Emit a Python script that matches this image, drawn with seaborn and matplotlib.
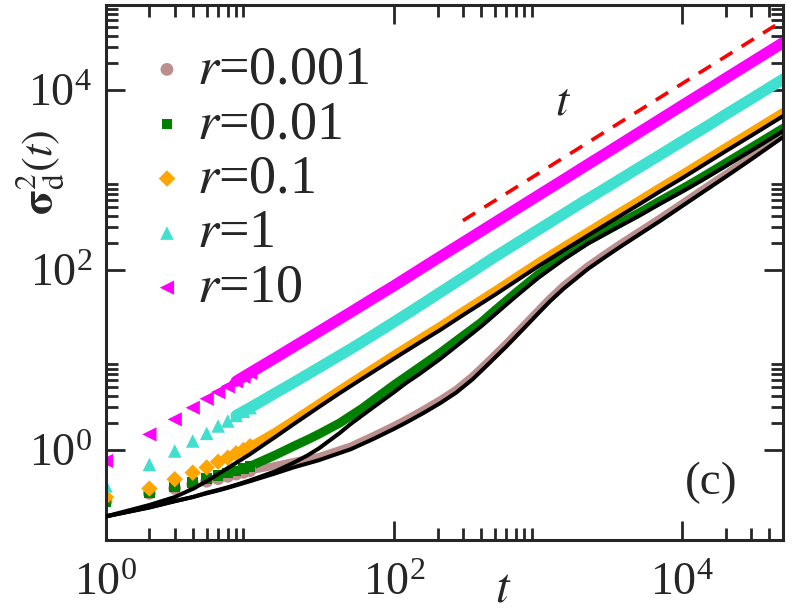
import numpy as np
import pandas as pd
import matplotlib
matplotlib.use("Agg")
import matplotlib.pyplot as plt
import seaborn as sns
from matplotlib.ticker import FixedLocator, LogFormatterMathtext, NullFormatter

# ---------------- data ----------------
# early, well separated simulation markers
t_early = [1, 2, 3, 4, 5, 6, 7, 8, 9, 10]
early_r0001 = [0.27, 0.33, 0.375, 0.415, 0.45, 0.48, 0.51, 0.54, 0.565, 0.59]
early_r001 = [0.27, 0.337, 0.39, 0.435, 0.48, 0.52, 0.555, 0.585, 0.62, 0.66]
early_r01 = [0.30, 0.373, 0.474, 0.56, 0.64, 0.74, 0.82, 0.92, 1.0, 1.1]
early_r1 = [0.40, 0.69, 0.975, 1.26, 1.53, 1.85, 2.1, 2.42, 2.7, 2.95]
early_r10 = [0.755, 1.49, 2.19, 2.95, 3.71, 4.4, 5.1, 5.8, 6.5, 7.2]

# later simulation data (markers so dense they form a band)
t_r0001 = [8, 10, 15, 20, 30, 50, 72, 100, 122, 160, 209, 270, 350, 460, 600, 800, 1000, 1200,
           1500, 2200, 3000, 3710, 5000, 7000, 10000, 13300, 20000, 30000, 50000]
y_r0001 = [0.54, 0.59, 0.67, 0.74, 0.84, 1.1, 1.44, 1.86, 2.2, 2.8, 3.6, 4.7, 6.6, 10.0, 15.2,
           24.5, 35.5, 48, 67, 110, 155, 195, 265, 375, 550, 750, 1160, 1810, 3200]
t_r001 = [8, 10, 15, 20, 25, 30, 42, 50, 60, 72, 100, 122, 150, 209, 300, 400, 500, 700, 1000,
          1500, 2200, 3000, 3710, 5000, 7000, 10000, 13300, 20000, 30000, 50000]
y_r001 = [0.585, 0.66, 0.88, 1.1, 1.3, 1.5, 2.0, 2.4, 2.9, 3.6, 5.3, 6.6, 8.3, 12, 18.5, 26, 35.5,
          56, 89, 142, 210, 275, 332, 430, 585, 800, 1040, 1540, 2280, 3750]
t_r01 = [8, 10, 15, 20, 30, 42, 60, 100, 150, 209, 300, 500, 700, 1000, 1500, 2000, 2690, 3710,
         5000, 7000, 10000, 13300, 20000, 30000, 50000]
y_r01 = [0.92, 1.1, 1.6, 2.15, 3.3, 4.7, 6.8, 11.5, 17.3, 24, 35, 59, 84, 122, 183, 243, 325, 445,
         595, 830, 1170, 1550, 2320, 3450, 5700]
t_r1 = [8, 10, 15, 20, 30, 50, 70, 100, 150, 200, 300, 500, 700, 1000, 1500, 2000, 3000, 5000,
        7000, 10000, 15000, 20000, 30000, 50000]
y_r1 = [2.42, 2.95, 4.3, 5.6, 8.2, 13.3, 18.5, 26.5, 40, 54, 82, 140, 196, 280, 420, 560, 830,
        1370, 1900, 2700, 4000, 5350, 7950, 13200]
t_r10 = [8, 10, 15, 20, 30, 50, 70, 100, 150, 200, 300, 500, 700, 1000, 1500, 2000, 3000, 5000,
         7000, 10000, 15000, 20000, 30000, 50000]
y_r10 = [5.8, 7.2, 10.6, 14.0, 20.7, 34, 47.4, 67, 101, 135, 202, 337, 472, 675, 1010, 1350, 2020,
         3370, 4720, 6750, 10100, 13500, 20200, 33600]

# theory curves (black)
th_t_r0001 = [1, 2, 3, 4, 5, 6, 7, 8, 10, 15, 20, 30, 50, 72, 100, 122, 160, 209, 270, 350, 460,
              600, 800, 1000, 1200, 1500, 2200, 3000, 3710, 5000, 7000, 10000, 13300, 20000, 30000, 50000]
th_y_r0001 = [0.183, 0.23, 0.27, 0.3, 0.33, 0.355, 0.38, 0.405, 0.45, 0.55, 0.64, 0.77, 1.02, 1.33,
              1.72, 2.03, 2.58, 3.32, 4.35, 6.1, 9.3, 14.1, 22.7, 33, 44.5, 62, 102, 144, 181, 247,
              350, 515, 700, 1085, 1690, 3000]
th_t_r001 = [1, 2, 3, 4, 5, 6, 7, 8, 10, 15, 20, 25, 30, 42, 50, 72, 100, 122, 150, 209, 300, 400,
             500, 700, 1000, 1500, 2200, 3000, 3710, 5000, 7000, 10000, 13300, 20000, 30000, 50000]
th_y_r001 = [0.183, 0.23, 0.27, 0.3, 0.335, 0.36, 0.385, 0.41, 0.46, 0.58, 0.72, 0.87, 1.04, 1.55,
             1.95, 3.0, 4.4, 5.6, 7.0, 10.3, 16.3, 23.5, 32, 51, 82, 131, 196, 258, 310, 400, 545,
             745, 970, 1430, 2120, 3500]
th_t_r01 = [1, 2, 3, 4, 5, 6, 7, 8, 10, 13, 15, 20, 30, 42, 60, 100, 150, 209, 300, 500, 700, 1000,
            1500, 2000, 2690, 3710, 5000, 7000, 10000, 13300, 20000, 30000, 50000]
th_y_r01 = [0.183, 0.245, 0.30, 0.37, 0.45, 0.54, 0.63, 0.72, 0.9, 1.2, 1.4, 1.93, 3.0, 4.3, 6.2,
            10.4, 15.6, 21.6, 31.5, 53, 75.5, 110, 165, 219, 293, 400, 535, 747, 1050, 1395, 2090,
            3100, 5130]

# guide line ~ t
guide_t = [300, 50000]
guide_y = [354, 59000]

labels = ["0.001", "0.01", "0.1", "1", "10"]
colors = ["#bc8f8f", "#008000", "#ffa500", "#40e0d0", "#ff00ff"]
markers = ["o", "s", "D", "^", "<"]
msizes = [85, 60, 70, 95, 105]
bandw = [5.5, 6.5, 5.8, 8.0, 8.0]
early = [early_r0001, early_r001, early_r01, early_r1, early_r10]
band_t = [t_r0001, t_r001, t_r01, t_r1, t_r10]
band_y = [y_r0001, y_r001, y_r01, y_r1, y_r10]
theory = [(th_t_r0001, th_y_r0001), (th_t_r001, th_y_r001), (th_t_r01, th_y_r01)]

# ---------------- style ----------------
sns.set_style("ticks")
plt.rcParams["font.family"] = ["Liberation Serif", "DejaVu Serif"]
plt.rcParams["mathtext.fontset"] = "stix"

W, H = 792, 613
fig = plt.figure(figsize=(W / 100, H / 100), dpi=100)
ax = fig.add_axes([106 / W, 1 - 540 / H, (783 - 106) / W, (540 - 5) / H])
ax.set_xscale("log")
ax.set_yscale("log")

for lab, col, mk, ms, bw, ye, tb, yb in zip(labels, colors, markers, msizes, bandw,
                                            early, band_t, band_y):
    bdf = pd.DataFrame({"t": tb, "y": yb})
    sns.lineplot(data=bdf, x="t", y="y", ax=ax, color=col, lw=bw,
                 estimator=None, sort=False, zorder=2)
    edf = pd.DataFrame({"t": t_early, "y": ye})
    sns.scatterplot(data=edf, x="t", y="y", ax=ax, color=col, marker=mk, s=ms,
                    edgecolor="none", linewidth=0, zorder=2.5, label=r"$r$=" + lab)

for tt, yy in theory:
    df = pd.DataFrame({"t": tt, "y": yy})
    sns.lineplot(data=df, x="t", y="y", ax=ax, color="black", lw=2.9,
                 estimator=None, sort=False, zorder=3)

gdf = pd.DataFrame({"t": guide_t, "y": guide_y})
sns.lineplot(data=gdf, x="t", y="y", ax=ax, color="red", lw=2.6,
             estimator=None, sort=False, zorder=3)
ax.lines[-1].set_linestyle((0, (4, 3)))

ax.set_xlim(1, 5e4)
ax.set_ylim(0.1, 8.8e4)

# ticks
ax.xaxis.set_major_locator(FixedLocator([1, 1e2, 1e4]))
ax.yaxis.set_major_locator(FixedLocator([1, 1e2, 1e4]))
minors = [m * 10 ** e for e in (0, 2, 4) for m in range(2, 10)]
ax.xaxis.set_minor_locator(FixedLocator(minors))
ax.yaxis.set_minor_locator(FixedLocator(minors))
ax.xaxis.set_major_formatter(LogFormatterMathtext())
ax.yaxis.set_major_formatter(LogFormatterMathtext())
ax.xaxis.set_minor_formatter(NullFormatter())
ax.yaxis.set_minor_formatter(NullFormatter())
ax.tick_params(which="both", direction="in", top=True, right=True, width=2.0, labelsize=33)
ax.tick_params(which="major", length=13.5)
ax.tick_params(which="minor", length=8.5)
ax.tick_params(axis="x", pad=16)
ax.tick_params(axis="y", pad=10)
for sp in ax.spines.values():
    sp.set_linewidth(2.2)

ax.set_xlabel("")
ax.set_ylabel("")
fig.text(503 / W, 1 - 589 / H, r"$t$", fontsize=35, ha="center", va="center")
fig.text(40 / W, 1 - 172 / H, r"$\mathbf{\sigma}_{\mathrm{d}}^{2}(t)$", fontsize=32,
         rotation=90, ha="center", va="center")
fig.text(563 / W, 1 - 103 / H, r"$t$", fontsize=34, ha="center", va="center")
fig.text(711 / W, 1 - 483 / H, "(c)", fontsize=34, ha="center", va="center")

leg = ax.legend(loc="upper left", bbox_to_anchor=(0.05, 0.925), frameon=False,
                fontsize=39, handletextpad=0.05, labelspacing=0.075,
                handlelength=1.0, borderaxespad=0, borderpad=0)

fig.savefig("out.png", dpi=100)
